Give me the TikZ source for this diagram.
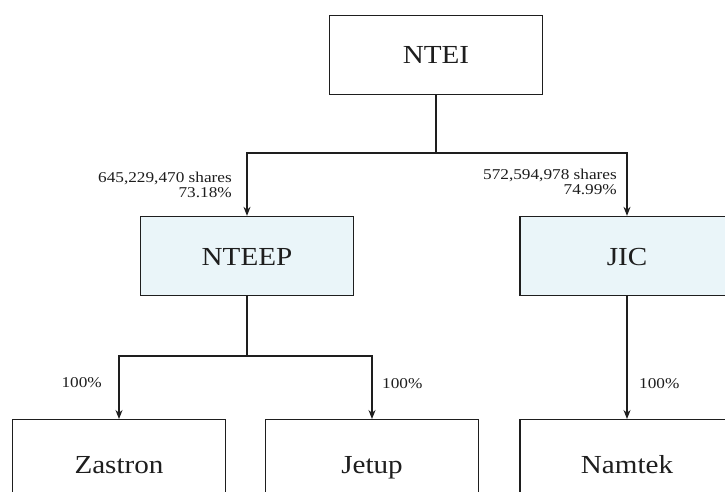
\documentclass[tikz,border=0pt]{standalone}
\usepackage{fontspec}
\usepackage{graphicx}
\setmainfont{Liberation Serif}
\usetikzlibrary{arrows.meta}
\definecolor{lightbox}{RGB}{234,245,249}
\definecolor{ink}{RGB}{30,30,30}
\newcommand\hsc[1]{\scalebox{1.15}[1]{#1}}
\newcommand\bsc[1]{\scalebox{1.12}[1]{#1}}
\tikzset{
  orgbox/.style={draw=ink, line width=1.3pt, minimum width=213pt, minimum height=79pt,
     inner sep=0pt, font=\fontsize{26}{30}\selectfont, text=ink, text height=18pt, text depth=0pt},
  shaded/.style={orgbox, fill=lightbox},
  conn/.style={draw=ink, line width=1.2pt},
  arr/.style={conn, -{Stealth[length=9pt,width=7pt]}},
  lbl/.style={font=\fontsize{15}{14.5}\selectfont, text=ink, inner sep=0pt, align=right}
}
\begin{document}
\begin{tikzpicture}[x=1pt,y=-1pt]
\useasboundingbox (0,0) rectangle (725,492);
\clip (0,0) rectangle (725,492);
\fill[white] (0,0) rectangle (725,492);
% boxes
\node[orgbox] (ntei) at (436,55) {\bsc{NTEI}};
\node[shaded] (nteep) at (247,256) {\bsc{NTEEP}};
\node[shaded, minimum width=214pt] (jic) at (627,256) {\bsc{JIC}};
\node[orgbox, anchor=north, minimum height=90pt] (zastron) at (119,419) {\bsc{Zastron}};
\node[orgbox, anchor=north, minimum height=90pt] (jetup) at (372,419) {\bsc{Jetup}};
\node[orgbox, anchor=north, minimum height=90pt, minimum width=214pt] (namtek) at (627,419) {\bsc{Namtek}};
% connectors
\coordinate (h1) at (436,153);
\coordinate (h2) at (247,356);
\draw[conn] (ntei.south) -- (h1);
\draw[arr] (h1) -| (nteep.north);
\draw[arr] (h1) -| (jic.north);
\draw[conn] (nteep.south) -- (h2);
\draw[arr] (h2) -| (zastron.north);
\draw[arr] (h2) -| (jetup.north);
\draw[arr] (jic.south) -- (namtek.north);
% labels
\node[lbl, anchor=east] (l1) at (232,185) {\hsc{645,229,470 shares}\\\hsc{73.18\%}};
\node[lbl, anchor=east] (l2) at (617,182) {\hsc{572,594,978 shares}\\\hsc{74.99\%}};
\node[lbl, anchor=east] (l3) at (102,383) {\hsc{100\%}};
\node[lbl, anchor=west] (l4) at (382,384) {\hsc{100\%}};
\node[lbl, anchor=west] (l5) at (639,384) {\hsc{100\%}};
\end{tikzpicture}
\end{document}
